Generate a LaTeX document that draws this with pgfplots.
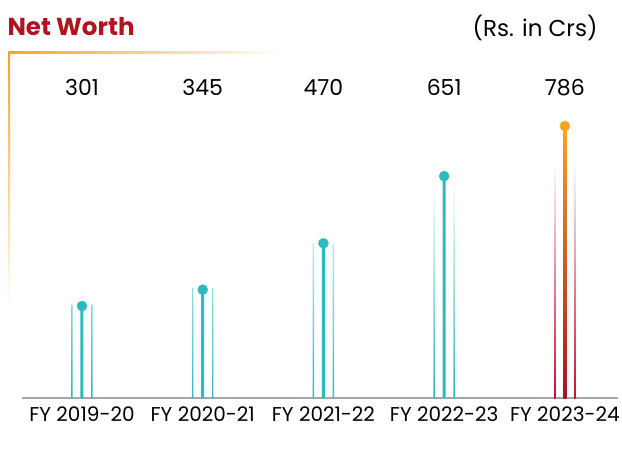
\documentclass[border=0pt]{standalone}
\usepackage{pgfplots}
\pgfplotsset{compat=1.18}
\usepackage{fontspec}
\setmainfont{Poppins}
\definecolor{teal1}{HTML}{2BBBBE}
\definecolor{red1}{HTML}{C8102E}
\definecolor{orange1}{HTML}{F7A51F}
\definecolor{title1}{HTML}{B0151F}
\definecolor{base1}{HTML}{A6A6A6}
\begin{document}
\begin{tikzpicture}
\useasboundingbox (0,0) rectangle (622pt,448pt);
% decorative frame
\shade[left color=orange1, right color=white] (8pt,394pt) rectangle (285pt,396pt);
\shade[top color=orange1, bottom color=white] (8pt,138pt) rectangle (10pt,396pt);
\node[anchor=west, text=title1, font=\bfseries\fontsize{24.5}{28}\selectfont] at (4pt,421pt) {Net Worth};
\node[anchor=east, font=\fontsize{23}{27}\selectfont] at (601pt,420pt) {(Rs. in Crs)};
\begin{axis}[
  at={(22pt,50pt)}, anchor=south west,
  scale only axis, width=596pt, height=338pt,
  xmin=-0.497, xmax=4.44, ymin=53, ymax=964,
  axis x line=bottom, axis y line=none,
  axis line style={base1, line width=1.5pt, -},
  xtick={0,1,2,3,4}, major tick length=0pt,
  xticklabels={FY 2019-20, FY 2020-21, FY 2021-22, FY 2022-23, FY 2023-24},
  xticklabel style={font=\fontsize{20}{24}\selectfont, yshift=-5pt},
  /pgf/number format/assume math mode=true,
  clip=false,
]
% side lines (teal)
\addplot[ybar, bar shift=-10pt, bar width=1.4pt, draw=none, top color=white, middle color=teal1!35, bottom color=teal1]
  coordinates {(0,305) (1,350) (2,470) (3,650)};
\addplot[ybar, bar shift=10pt, bar width=1.4pt, draw=none, top color=white, middle color=teal1!35, bottom color=teal1]
  coordinates {(0,305) (1,350) (2,470) (3,650)};
% side lines (red)
\addplot[ybar, bar shift=-10pt, bar width=1.4pt, draw=none, top color=white, middle color=red1!45, bottom color=red1]
  coordinates {(4,690)};
\addplot[ybar, bar shift=10pt, bar width=1.4pt, draw=none, top color=white, middle color=red1!45, bottom color=red1]
  coordinates {(4,690)};
% main stems
\addplot[ybar, bar shift=0pt, bar width=3pt, draw=none, fill=teal1]
  coordinates {(0,301) (1,345) (2,470) (3,651)};
\addplot[ybar, bar shift=0pt, bar width=3pt, draw=none, top color=orange1, bottom color=red1!85!black]
  coordinates {(4,786)};
% dots
\addplot[teal1, only marks, mark=*, mark size=5pt, mark options={fill=teal1, draw=teal1}]
  coordinates {(0,301) (1,345) (2,470) (3,651)};
\addplot[orange1, only marks, mark=*, mark size=5pt, mark options={fill=orange1, draw=orange1}]
  coordinates {(4,786)};
% value labels
\addplot[draw=none, mark=none, nodes near coords, point meta=explicit symbolic,
  every node near coord/.style={anchor=center, text=black, font=\fontsize{22}{26}\selectfont}]
  coordinates {(0,889)[301] (1,889)[345] (2,889)[470] (3,889)[651] (4,889)[786]};
\end{axis}
\end{tikzpicture}
\end{document}
